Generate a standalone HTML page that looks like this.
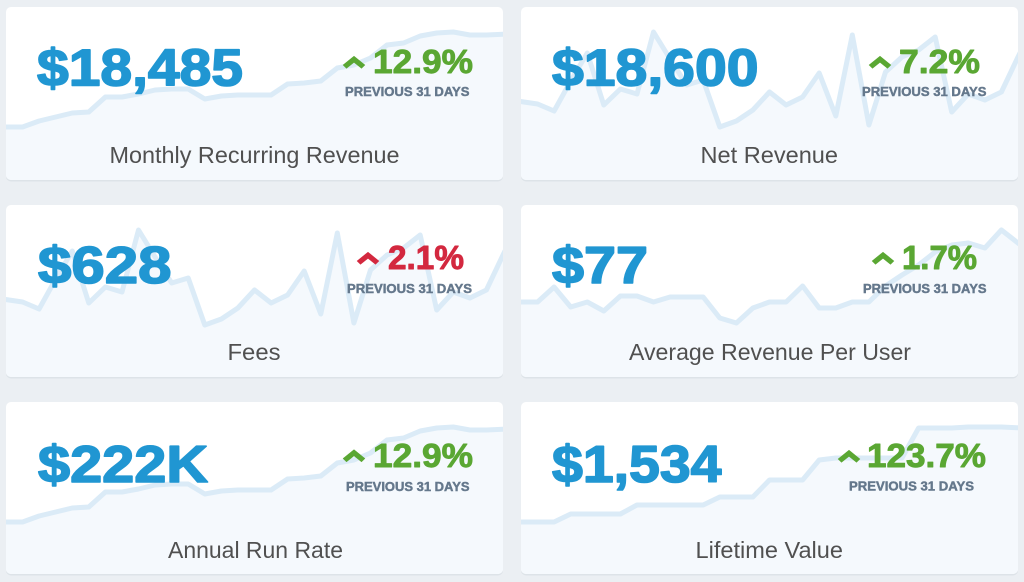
<!DOCTYPE html>
<html><head><meta charset="utf-8"><style>
html,body{margin:0;padding:0;background:#ebeff3;}
svg{display:block;}
</style></head><body>
<svg width="1024" height="582" viewBox="0 0 1024 582" xmlns="http://www.w3.org/2000/svg">
<defs>
<clipPath id="c1"><rect x="6" y="7" width="497" height="173" rx="5"/></clipPath>
<clipPath id="c2"><rect x="521" y="7" width="497" height="173" rx="5"/></clipPath>
<clipPath id="c3"><rect x="6" y="205" width="497" height="172" rx="5"/></clipPath>
<clipPath id="c4"><rect x="521" y="205" width="497" height="172" rx="5"/></clipPath>
<clipPath id="c5"><rect x="6" y="402" width="497" height="172" rx="5"/></clipPath>
<clipPath id="c6"><rect x="521" y="402" width="497" height="172" rx="5"/></clipPath>
</defs>
<rect width="1024" height="582" fill="#ebeff3"/>
<!-- shadows -->
<g fill="#dde3e8">
<rect x="6" y="8.5" width="497" height="173" rx="5"/>
<rect x="521" y="8.5" width="497" height="173" rx="5"/>
<rect x="6" y="206.5" width="497" height="172" rx="5"/>
<rect x="521" y="206.5" width="497" height="172" rx="5"/>
<rect x="6" y="403.5" width="497" height="172" rx="5"/>
<rect x="521" y="403.5" width="497" height="172" rx="5"/>
</g>
<g fill="#ffffff">
<rect x="6" y="7" width="497" height="173" rx="5"/>
<rect x="521" y="7" width="497" height="173" rx="5"/>
<rect x="6" y="205" width="497" height="172" rx="5"/>
<rect x="521" y="205" width="497" height="172" rx="5"/>
<rect x="6" y="402" width="497" height="172" rx="5"/>
<rect x="521" y="402" width="497" height="172" rx="5"/>
</g>

<!-- Card 1 sparkline -->
<g clip-path="url(#c1)">
<polygon fill="#f5f9fd" points="6,127 22.6,127 39.1,121 55.7,117 72.3,113 88.8,112 105.4,97 122,97 138.5,94 155.1,90 171.7,89 188.2,89 204.8,99 221.4,96 237.9,95 254.5,95 271.1,95 287.6,84 304.2,83 320.8,81 337.3,68 353.9,65 370.5,58 387,45 403.6,43 420.2,36 436.7,33 453.3,32 469.9,35 486.4,35 503,34 503,180 6,180"/>
<polyline fill="none" stroke="#dbebf7" stroke-width="5" stroke-linejoin="round" points="2,127 22.6,127 39.1,121 55.7,117 72.3,113 88.8,112 105.4,97 122,97 138.5,94 155.1,90 171.7,89 188.2,89 204.8,99 221.4,96 237.9,95 254.5,95 271.1,95 287.6,84 304.2,83 320.8,81 337.3,68 353.9,65 370.5,58 387,45 403.6,43 420.2,36 436.7,33 453.3,32 469.9,35 486.4,35 507,34"/>
</g>
<!-- Card 2 sparkline -->
<g clip-path="url(#c2)">
<polygon fill="#f5f9fd" points="521,102 537.6,104 554.1,111 570.7,81 587.3,53 603.8,105 620.4,89 637,94 653.5,32 670.1,59 686.7,85 703.2,80 719.8,127 736.4,121 752.9,110 769.5,92 786.1,105 802.6,97 819.2,73 835.8,116 852.3,35 868.9,125 885.5,72 902,57 918.6,50 935.2,37 951.7,112 968.3,94 984.9,100 1001.4,92 1018,57 1018,180 521,180"/>
<polyline fill="none" stroke="#dbebf7" stroke-width="5" stroke-linejoin="round" points="517,101 537.6,104 554.1,111 570.7,81 587.3,53 603.8,105 620.4,89 637,94 653.5,32 670.1,59 686.7,85 703.2,80 719.8,127 736.4,121 752.9,110 769.5,92 786.1,105 802.6,97 819.2,73 835.8,116 852.3,35 868.9,125 885.5,72 902,57 918.6,50 935.2,37 951.7,112 968.3,94 984.9,100 1001.4,92 1018,57 1022,49"/>
</g>
<!-- Card 3 sparkline -->
<g clip-path="url(#c3)">
<polygon fill="#f5f9fd" points="6,300 22.6,302 39.1,309 55.7,279 72.3,251 88.8,303 105.4,287 122,292 138.5,230 155.1,257 171.7,283 188.2,278 204.8,325 221.4,319 237.9,308 254.5,290 271.1,303 287.6,295 304.2,271 320.8,314 337.3,233 353.9,323 370.5,270 387,255 403.6,248 420.2,235 436.7,310 453.3,292 469.9,298 486.4,290 503,255 503,377 6,377"/>
<polyline fill="none" stroke="#dbebf7" stroke-width="5" stroke-linejoin="round" points="2,299 22.6,302 39.1,309 55.7,279 72.3,251 88.8,303 105.4,287 122,292 138.5,230 155.1,257 171.7,283 188.2,278 204.8,325 221.4,319 237.9,308 254.5,290 271.1,303 287.6,295 304.2,271 320.8,314 337.3,233 353.9,323 370.5,270 387,255 403.6,248 420.2,235 436.7,310 453.3,292 469.9,298 486.4,290 503,255 507,247"/>
</g>
<!-- Card 4 sparkline -->
<g clip-path="url(#c4)">
<polygon fill="#f5f9fd" points="521,302 537.6,302 554.1,287 570.7,307 587.3,302 603.8,311 620.4,296 637,296 653.5,302 670.1,297 686.7,297 703.2,297 719.8,318 736.4,323 752.9,308 769.5,302 786.1,302 802.6,286 819.2,308 835.8,308 852.3,302 868.9,302 885.5,286 902,275 918.6,265 935.2,252 951.7,245 968.3,243 984.9,248 1001.4,230 1018,243 1018,377 521,377"/>
<polyline fill="none" stroke="#dbebf7" stroke-width="5" stroke-linejoin="round" points="517,302 537.6,302 554.1,287 570.7,307 587.3,302 603.8,311 620.4,296 637,296 653.5,302 670.1,297 686.7,297 703.2,297 719.8,318 736.4,323 752.9,308 769.5,302 786.1,302 802.6,286 819.2,308 835.8,308 852.3,302 868.9,302 885.5,286 902,275 918.6,265 935.2,252 951.7,245 968.3,243 984.9,248 1001.4,230 1018,243 1022,246"/>
</g>
<!-- Card 5 sparkline -->
<g clip-path="url(#c5)">
<polygon fill="#f5f9fd" points="6,522 22.6,522 39.1,516 55.7,512 72.3,508 88.8,507 105.4,492 122,492 138.5,489 155.1,485 171.7,484 188.2,484 204.8,494 221.4,491 237.9,490 254.5,490 271.1,490 287.6,479 304.2,478 320.8,476 337.3,463 353.9,460 370.5,453 387,440 403.6,438 420.2,431 436.7,428 453.3,427 469.9,430 486.4,430 503,429 503,574 6,574"/>
<polyline fill="none" stroke="#dbebf7" stroke-width="5" stroke-linejoin="round" points="2,522 22.6,522 39.1,516 55.7,512 72.3,508 88.8,507 105.4,492 122,492 138.5,489 155.1,485 171.7,484 188.2,484 204.8,494 221.4,491 237.9,490 254.5,490 271.1,490 287.6,479 304.2,478 320.8,476 337.3,463 353.9,460 370.5,453 387,440 403.6,438 420.2,431 436.7,428 453.3,427 469.9,430 486.4,430 507,429"/>
</g>
<!-- Card 6 sparkline -->
<g clip-path="url(#c6)">
<polygon fill="#f5f9fd" points="521,522 537.6,522 554.1,522 570.7,514 587.3,514 603.8,514 620.4,514 637,505 653.5,505 670.1,505 686.7,505 703.2,505 719.8,497 736.4,497 752.9,497 769.5,480 786.1,480 802.6,480 819.2,460 835.8,458 852.3,458 868.9,458 885.5,458 902,458 918.6,428 935.2,428 951.7,428 968.3,427 984.9,427 1001.4,427 1018,428 1018,574 521,574"/>
<polyline fill="none" stroke="#dbebf7" stroke-width="5" stroke-linejoin="round" points="517,522 537.6,522 554.1,522 570.7,514 587.3,514 603.8,514 620.4,514 637,505 653.5,505 670.1,505 686.7,505 703.2,505 719.8,497 736.4,497 752.9,497 769.5,480 786.1,480 802.6,480 819.2,460 835.8,458 852.3,458 868.9,458 885.5,458 902,458 918.6,428 935.2,428 951.7,428 968.3,427 984.9,427 1001.4,427 1022,428"/>
</g>

<!-- Big numbers -->
<g font-family="Liberation Sans, Arial, sans-serif" font-weight="bold" font-size="52" fill="#2096d2" stroke="#2096d2" stroke-width="1.6" stroke-linejoin="round">
<text x="37" y="85.5" textLength="206" lengthAdjust="spacingAndGlyphs">$18,485</text>
<text x="552" y="85.5" textLength="206.5" lengthAdjust="spacingAndGlyphs">$18,600</text>
<text x="38" y="283" textLength="133.5" lengthAdjust="spacingAndGlyphs">$628</text>
<text x="552" y="283" textLength="96" lengthAdjust="spacingAndGlyphs">$77</text>
<text x="38" y="482" textLength="170" lengthAdjust="spacingAndGlyphs">$222K</text>
<text x="552" y="482" textLength="169.5" lengthAdjust="spacingAndGlyphs">$1,534</text>
</g>

<!-- Carets -->
<g fill="#5aa733" stroke="#5aa733" stroke-width="1" stroke-linejoin="miter">
<polygon points="343.5,65 354,56.5 364.5,65 361.5,68 354,62 346.5,68"/>
<polygon points="869.5,65 880,56.5 890.5,65 887.5,68 880,62 872.5,68"/>
<polygon points="872.5,261 883,252.5 893.5,261 890.5,264 883,258 875.5,264"/>
<polygon points="343.5,458.5 354,450 364.5,458.5 361.5,461.5 354,455.5 346.5,461.5"/>
<polygon points="838.5,459 849,450.5 859.5,459 856.5,462 849,456 841.5,462"/>
</g>
<polygon fill="#d3283f" stroke="#d3283f" stroke-width="1" points="357.5,261 368,252.5 378.5,261 375.5,264 368,258 360.5,264"/>

<!-- Percentages -->
<g font-family="Liberation Sans, Arial, sans-serif" font-weight="bold" font-size="33" stroke-width="0.9" stroke-linejoin="round">
<text x="373" y="73" textLength="100" lengthAdjust="spacingAndGlyphs" fill="#5aa733" stroke="#5aa733">12.9%</text>
<text x="899" y="73" textLength="81" lengthAdjust="spacingAndGlyphs" fill="#5aa733" stroke="#5aa733">7.2%</text>
<text x="388" y="269" textLength="76" lengthAdjust="spacingAndGlyphs" fill="#d3283f" stroke="#d3283f">2.1%</text>
<text x="902" y="269" textLength="75" lengthAdjust="spacingAndGlyphs" fill="#5aa733" stroke="#5aa733">1.7%</text>
<text x="373" y="467" textLength="100" lengthAdjust="spacingAndGlyphs" fill="#5aa733" stroke="#5aa733">12.9%</text>
<text x="867" y="467" textLength="119" lengthAdjust="spacingAndGlyphs" fill="#5aa733" stroke="#5aa733">123.7%</text>
</g>

<!-- PREVIOUS 31 DAYS -->
<g font-family="Liberation Sans, Arial, sans-serif" font-weight="bold" font-size="12.5" fill="#65788c" stroke="#65788c" stroke-width="0.45">
<text x="345" y="96" textLength="124.5" lengthAdjust="spacingAndGlyphs">PREVIOUS 31 DAYS</text>
<text x="862" y="96" textLength="124.5" lengthAdjust="spacingAndGlyphs">PREVIOUS 31 DAYS</text>
<text x="347" y="293" textLength="125" lengthAdjust="spacingAndGlyphs">PREVIOUS 31 DAYS</text>
<text x="863" y="293" textLength="123.5" lengthAdjust="spacingAndGlyphs">PREVIOUS 31 DAYS</text>
<text x="346" y="491" textLength="123.5" lengthAdjust="spacingAndGlyphs">PREVIOUS 31 DAYS</text>
<text x="849" y="490.5" textLength="125" lengthAdjust="spacingAndGlyphs">PREVIOUS 31 DAYS</text>
</g>

<!-- Labels -->
<g font-family="Liberation Sans, Arial, sans-serif" font-size="23.5" fill="#505050">
<text x="109.5" y="163" textLength="290" lengthAdjust="spacingAndGlyphs">Monthly Recurring Revenue</text>
<text x="700.5" y="163" textLength="137.5" lengthAdjust="spacingAndGlyphs">Net Revenue</text>
<text x="227.5" y="360" textLength="53" lengthAdjust="spacingAndGlyphs">Fees</text>
<text x="629" y="360" textLength="282" lengthAdjust="spacingAndGlyphs">Average Revenue Per User</text>
<text x="168" y="558" textLength="175" lengthAdjust="spacingAndGlyphs">Annual Run Rate</text>
<text x="695.5" y="558" textLength="147.5" lengthAdjust="spacingAndGlyphs">Lifetime Value</text>
</g>
</svg>
</body></html>
